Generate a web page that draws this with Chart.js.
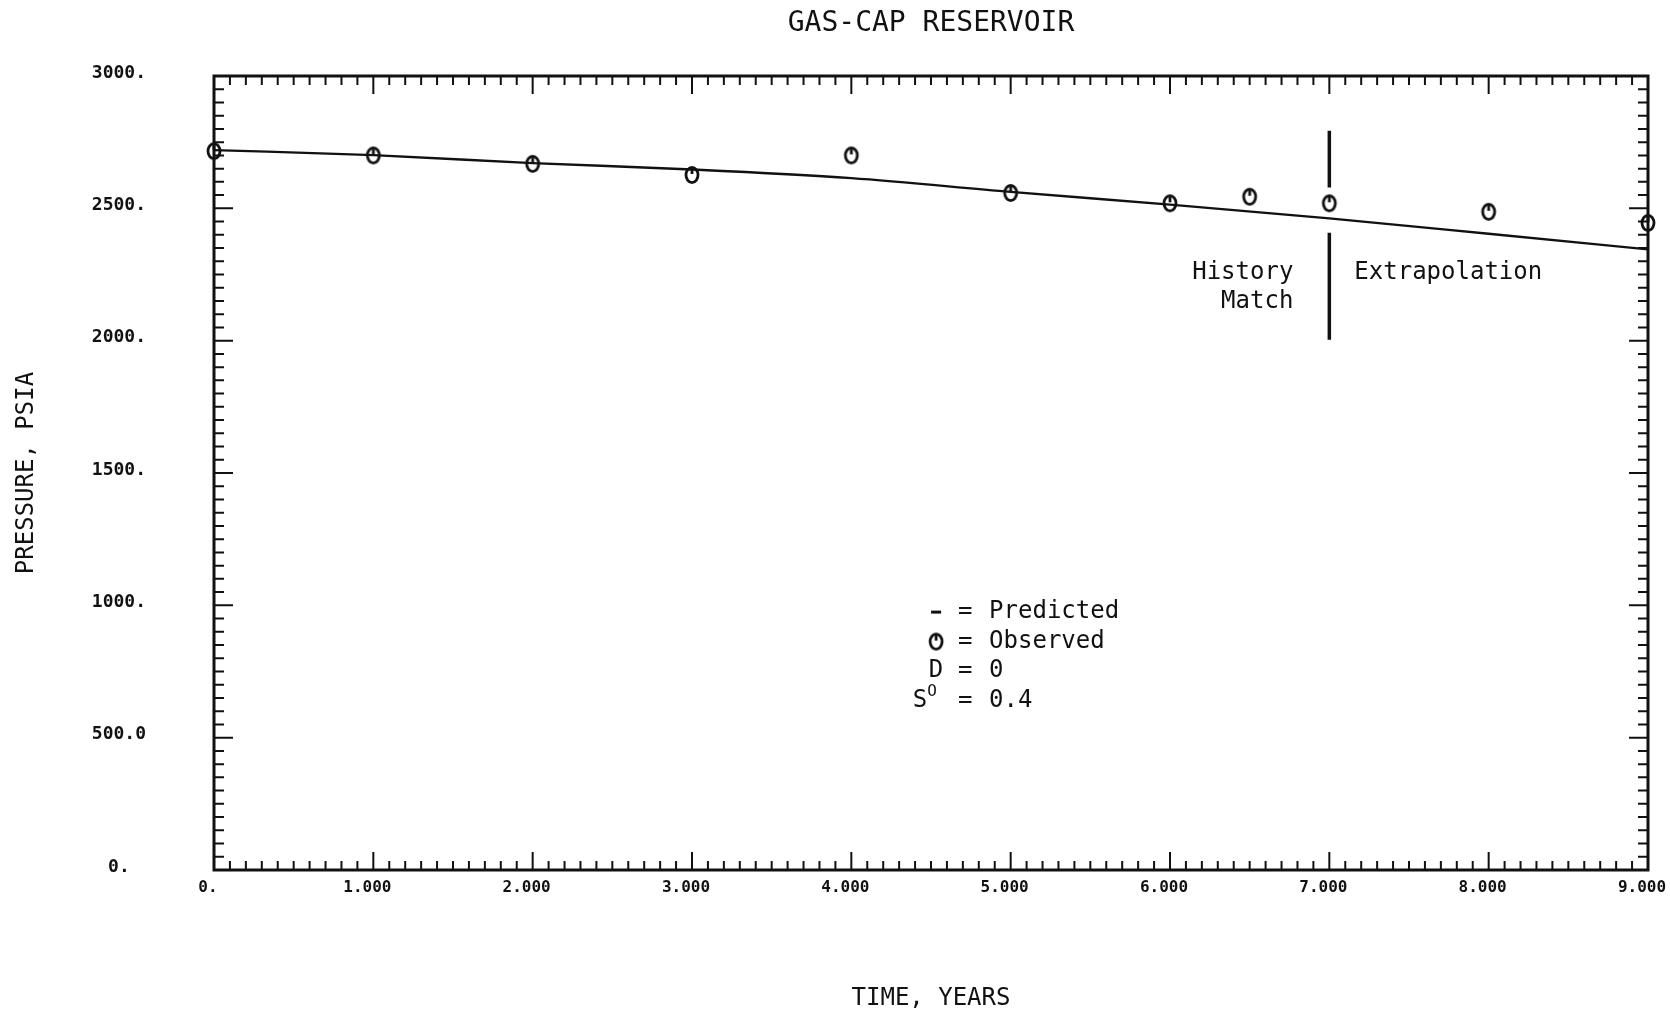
<!DOCTYPE html>
<html>
<head>
<meta charset="utf-8">
<title>Gas-Cap Reservoir</title>
<script src="https://cdn.jsdelivr.net/npm/chart.js@4.4.0/dist/chart.umd.min.js"></script>
<style>
  html, body { margin: 0; padding: 0; background: #fff; }
</style>
</head>
<body>
<canvas id="pressure" width="1670" height="1013"></canvas>
<script>
// values
const years = [0, 1, 2, 3, 4, 5, 6, 7, 8, 9];
const predicted = [2720, 2701, 2671, 2647, 2614, 2562, 2514, 2462, 2404, 2345];
const obsYears = [0, 1, 2, 3, 4, 5, 6, 6.5, 7, 8, 9];
const observed = [2716, 2700, 2668, 2626, 2700, 2558, 2519, 2544, 2519, 2487, 2445];

// history match / extrapolation divider
const dividerYear = 7;
const dividerUpper = [2793, 2579];
const dividerLower = [2408, 2003];

const xTickValues = [0, 1, 2, 3, 4, 5, 6, 7, 8, 9];
const xTickLabels = ['0.', '1.000', '2.000', '3.000', '4.000', '5.000', '6.000', '7.000', '8.000', '9.000'];
const yTickValues = [0, 500, 1000, 1500, 2000, 2500, 3000];
const yTickLabels = ['0.', '500.0', '1000.', '1500.', '2000.', '2500.', '3000.'];

const ink = '#111';
const mono = '"DejaVu Sans Mono", "Liberation Mono", monospace';

function makeMarker() {
    const c = document.createElement('canvas');
    c.width = 18;
    c.height = 22;
    const g = c.getContext('2d');
    g.strokeStyle = ink;
    g.lineWidth = 2.8;
    g.beginPath();
    g.ellipse(9, 11, 6, 7.6, 0, 0, Math.PI * 2);
    g.stroke();
    g.beginPath();
    g.moveTo(9, 4);
    g.lineTo(9, 10);
    g.stroke();
    return c;
}
const marker = makeMarker();

// frame with inward ticks on all four sides
const framePlugin = {
    id: 'frame',
    beforeDatasetsDraw(chart) {
        const { ctx, chartArea: a, scales: { x, y } } = chart;
        ctx.save();
        ctx.strokeStyle = ink;
        ctx.lineWidth = 2;
        ctx.beginPath();
        for (let i = 0; i <= 90; i++) {
            const px = x.getPixelForValue(i / 10);
            const len = i % 10 === 0 ? 18 : 9;
            ctx.moveTo(px, a.bottom);
            ctx.lineTo(px, a.bottom - len);
            ctx.moveTo(px, a.top);
            ctx.lineTo(px, a.top + len);
        }
        for (let i = 0; i <= 60; i++) {
            const py = y.getPixelForValue(i * 50);
            const len = i % 10 === 0 ? 19 : 10;
            ctx.moveTo(a.left, py);
            ctx.lineTo(a.left + len, py);
            ctx.moveTo(a.right, py);
            ctx.lineTo(a.right - len, py);
        }
        ctx.stroke();
        ctx.lineWidth = 3;
        ctx.strokeRect(a.left, a.top, a.right - a.left, a.bottom - a.top);
        ctx.restore();
    }
};

const notesPlugin = {
    id: 'notes',
    afterDatasetsDraw(chart) {
        const { ctx, scales: { x, y } } = chart;
        ctx.save();
        ctx.fillStyle = ink;
        ctx.font = '24px ' + mono;
        ctx.textBaseline = 'middle';

        const mid = x.getPixelForValue(dividerYear);
        const rowY = y.getPixelForValue(2256);
        ctx.textAlign = 'right';
        ctx.fillText('History', mid - 36, rowY);
        ctx.fillText('Match', mid - 36, rowY + 29);
        ctx.textAlign = 'left';
        ctx.fillText('Extrapolation', mid + 25, rowY);

        // key block
        const eqX = x.getPixelForValue(4.67);
        const top = y.getPixelForValue(982) + 2;
        const step = 29.5;
        const rows = ['Predicted', 'Observed', '0', '0.4'];
        rows.forEach((txt, i) => {
            const ry = top + i * step;
            ctx.textAlign = 'left';
            ctx.fillText('=', eqX, ry);
            ctx.fillText(txt, eqX + 31, ry);
        });
        ctx.fillRect(eqX - 27, top - 1.5, 10, 3);
        ctx.drawImage(marker, eqX - 31, top + step - 11);
        ctx.textAlign = 'center';
        ctx.fillText('D', eqX - 22, top + step * 2);
        ctx.fillText('S', eqX - 38, top + step * 3);
        ctx.font = '16px ' + mono;
        ctx.fillText('O', eqX - 26, top + step * 3 - 9);
        ctx.restore();
    }
};

const ctx = document.getElementById('pressure').getContext('2d');
const pressureChart = new Chart(ctx, {
    type: 'scatter',
    data: {
        datasets: [
            {
                label: 'Predicted',
                data: years.map((t, i) => ({ x: t, y: predicted[i] })),
                showLine: true,
                borderColor: ink,
                borderWidth: 2.4,
                pointRadius: 0,
                cubicInterpolationMode: 'monotone'
            },
            {
                label: 'Observed',
                data: obsYears.map((t, i) => ({ x: t, y: observed[i] })),
                pointStyle: marker,
                pointRadius: 8,
                clip: false
            },
            {
                label: 'Divider upper',
                data: dividerUpper.map(v => ({ x: dividerYear, y: v })),
                showLine: true,
                borderColor: ink,
                borderWidth: 3.5,
                pointRadius: 0
            },
            {
                label: 'Divider lower',
                data: dividerLower.map(v => ({ x: dividerYear, y: v })),
                showLine: true,
                borderColor: ink,
                borderWidth: 3.5,
                pointRadius: 0
            }
        ]
    },
    options: {
        responsive: false,
        animation: false,
        devicePixelRatio: 1,
        layout: { padding: { left: 0, right: 22, top: 0, bottom: 0 } },
        plugins: {
            legend: { display: false },
            tooltip: { enabled: false },
            title: {
                display: true,
                fullSize: false,
                text: 'GAS-CAP RESERVOIR',
                color: ink,
                font: { family: mono, size: 28, weight: 'normal', lineHeight: 1.2 },
                padding: { top: 7, bottom: 35.4 }
            }
        },
        scales: {
            x: {
                type: 'linear',
                min: 0,
                max: 9,
                afterBuildTicks: s => { s.ticks = xTickValues.map(v => ({ value: v })); },
                afterFit: s => { s.height = 143; s.paddingLeft = 0; s.paddingRight = 0; },
                ticks: {
                    callback: (v, i) => xTickLabels[i],
                    color: ink,
                    font: { family: mono, size: 16, weight: 'bold' },
                    padding: 8,
                    labelOffset: -6,
                    maxRotation: 0,
                    autoSkip: false
                },
                grid: { display: false, drawTicks: false },
                border: { display: false },
                title: {
                    display: true,
                    text: 'TIME, YEARS',
                    color: ink,
                    font: { family: mono, size: 24, weight: 'normal', lineHeight: 1.2 },
                    padding: { top: 0, bottom: 0 }
                }
            },
            y: {
                type: 'linear',
                min: 0,
                max: 3000,
                afterBuildTicks: s => { s.ticks = yTickValues.map(v => ({ value: v })); },
                afterFit: s => { s.width = 214; s.paddingTop = 0; s.paddingBottom = 0; },
                ticks: {
                    callback: (v, i) => yTickLabels[i],
                    color: ink,
                    font: { family: mono, size: 18, weight: 'bold' },
                    crossAlign: 'center',
                    padding: 68,
                    labelOffset: -3,
                    autoSkip: false
                },
                grid: { display: false, drawTicks: false },
                border: { display: false },
                title: {
                    display: true,
                    text: 'PRESSURE, PSIA',
                    color: ink,
                    font: { family: mono, size: 24, weight: 'normal', lineHeight: 1.2 },
                    padding: { top: 12.6, bottom: 0 }
                }
            }
        }
    },
    plugins: [framePlugin, notesPlugin]
});
</script>
</body>
</html>
